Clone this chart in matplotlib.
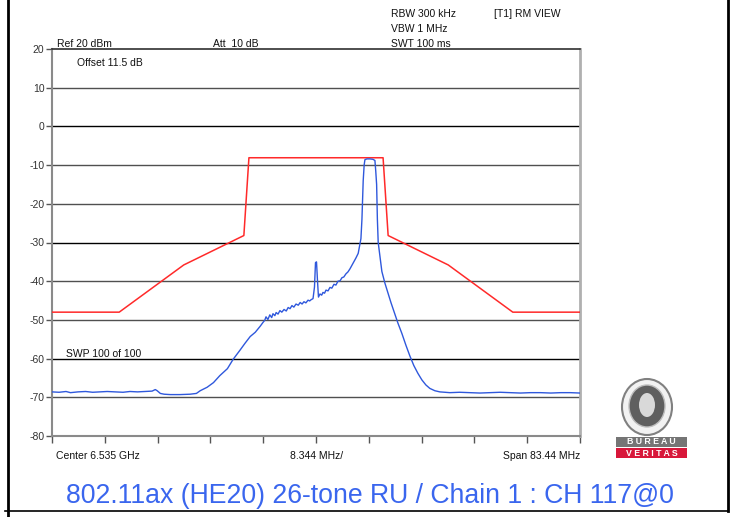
import matplotlib
matplotlib.use("Agg")
import matplotlib.pyplot as plt
from matplotlib.patches import Rectangle, Ellipse
from matplotlib.lines import Line2D

plt.rcParams['font.family'] = ['Liberation Sans', 'DejaVu Sans']

# ---------------- data ----------------
center_mhz = 6535.0
span_mhz = 83.44
y_ticks = [20, 10, 0, -10, -20, -30, -40, -50, -60, -70, -80]

# spectral mask (offset from centre, MHz ; level dBm)
mask_f = [-41.72, -31.1, -20.9, -11.4, -10.6, 10.6, 11.4, 20.9, 31.1, 41.72]
mask_db = [-48.0, -48.0, -35.8, -28.2, -8.1, -8.1, -28.2, -35.8, -48.0, -48.0]

# measured trace (offset from centre, MHz ; level dBm)
trace_f = [-41.72, -40.6, -39.5, -38.8, -37.6, -36.4, -35.3, -34.1, -33.0, -31.7,
           -30.5, -29.4, -28.2, -27.0, -25.9, -25.4, -25.1, -24.6, -24.0, -23.0,
           -21.5, -19.9, -18.9, -18.3, -17.2, -16.2, -15.2, -14.0, -13.1, -12.0,
           -11.2, -10.4, -9.6, -8.8, -8.4, -8.1, -7.9, -7.6, -7.3, -7.0,
           -6.8, -6.5, -6.3, -6.0, -5.7, -5.4, -5.05, -4.7, -4.4, -4.1,
           -3.8, -3.5, -3.16, -2.8, -2.5, -2.2, -1.9, -1.6, -1.26, -1.0,
           -0.79, -0.47, -0.24, -0.08, 0.08, 0.24, 0.39, 0.63, 0.9, 1.1,
           1.35, 1.58, 1.9, 2.21, 2.5, 2.84, 3.15, 3.47, 3.8, 4.1,
           4.4, 4.73, 5.05, 5.37, 5.84, 6.31, 6.67, 6.94, 7.10, 7.26,
           7.37, 7.46, 7.61, 7.73, 8.05, 8.52, 8.99, 9.31, 9.44, 9.58,
           9.70, 9.83, 10.10, 10.41, 10.89, 11.36, 11.84, 12.31, 12.94, 13.57,
           14.20, 14.83, 15.46, 16.10, 16.73, 17.36, 17.99, 18.78, 19.57, 21.15,
           22.7, 24.3, 25.9, 27.5, 29.1, 30.7, 32.3, 33.9, 35.5, 37.1,
           38.7, 40.2, 41.72]
trace_db = [-68.6, -68.7, -68.5, -68.8, -68.6, -68.5, -68.7, -68.6, -68.5, -68.6,
            -68.7, -68.5, -68.6, -68.5, -68.4, -68.0, -68.3, -69.0, -69.2, -69.3,
            -69.3, -69.2, -69.0, -68.3, -67.4, -66.2, -64.4, -62.6, -60.2, -57.8,
            -56.0, -54.3, -53.2, -51.6, -50.7, -50.1, -49.2, -49.9, -48.7, -49.4,
            -48.4, -48.9, -48.1, -48.5, -47.6, -48.0, -47.3, -47.7, -46.8, -47.1,
            -46.3, -46.7, -45.9, -46.2, -45.5, -45.9, -45.3, -45.6, -44.9, -45.1,
            -44.8, -44.5, -41.5, -35.2, -35.0, -40.0, -44.1, -43.3, -43.6, -42.9,
            -43.1, -42.3, -42.5, -41.6, -41.8, -40.8, -41.0, -40.0, -39.9, -39.1,
            -38.9, -38.1, -37.6, -36.8, -35.4, -34.0, -32.8, -30.5, -29.0, -24.0,
            -18.0, -14.0, -10.0, -8.6, -8.4, -8.4, -8.5, -8.8, -11.5, -15.0,
            -24.0, -30.0, -33.5, -37.5, -40.5, -43.0, -45.5, -47.8, -50.8, -53.5,
            -56.5, -59.3, -61.8, -63.8, -65.5, -66.8, -67.7, -68.3, -68.6, -68.8,
            -68.7, -68.8, -68.9, -68.8, -68.7, -68.8, -68.9, -68.8, -68.8, -68.9,
            -68.8, -68.8, -68.9]

title = "802.11ax (HE20) 26-tone RU / Chain 1 : CH 117@0"

# ---------------- figure ----------------
W, H = 731, 517
fig = plt.figure(figsize=(W / 100, H / 100), dpi=100)

def fx(px):
    return px / W

def fy(py):
    return 1 - py / H

ax = fig.add_axes([fx(52), fy(436), fx(580) - fx(52), fy(49) - fy(436)])
f_lo = center_mhz - span_mhz / 2
f_hi = center_mhz + span_mhz / 2
ax.set_xlim(f_lo, f_hi)
ax.set_ylim(-80, 20)

# horizontal grid
for v in y_ticks[1:-1]:
    col = '#000000' if v in (0, -30, -60) else '#505050'
    ax.axhline(v, color=col, lw=1.0, zorder=1)

ax.plot([center_mhz + f for f in mask_f], mask_db, color='#ff2a2a', lw=1.1, zorder=3)
ax.plot([center_mhz + f for f in trace_f], trace_db, color='#2f58dc', lw=1.0, zorder=4)

ax.set_yticks(y_ticks)
ax.set_yticklabels([str(v) for v in y_ticks])
ax.set_xticks([f_lo + i * span_mhz / 10 for i in range(11)])
ax.set_xticklabels([])
ax.tick_params(axis='y', length=4, width=1, color='#555555', labelsize=7.5,
               labelcolor='#333333', pad=1.5)
ax.tick_params(axis='x', length=5, width=1, color='#555555', direction='out')
for s in ax.spines.values():
    s.set_color('#8a8a8a')
    s.set_linewidth(1.5)
ax.spines['top'].set_color('#303030')
ax.spines['top'].set_linewidth(1.2)
ax.spines['right'].set_color('#b0b0b0')
ax.spines['right'].set_linewidth(2.0)

# header texts
fs = 7.5
fig.text(fx(57), fy(47), "Ref 20 dBm", fontsize=fs, va='baseline', color='#111111')
fig.text(fx(213), fy(47), "Att  10 dB", fontsize=fs, va='baseline', color='#111111')
fig.text(fx(391), fy(17), "RBW 300 kHz", fontsize=fs, va='baseline', color='#111111')
fig.text(fx(391), fy(32), "VBW 1 MHz", fontsize=fs, va='baseline', color='#111111')
fig.text(fx(391), fy(47), "SWT 100 ms", fontsize=fs, va='baseline', color='#111111')
fig.text(fx(494), fy(17), "[T1] RM VIEW", fontsize=fs, va='baseline', color='#111111')
fig.text(fx(77), fy(66), "Offset 11.5 dB", fontsize=fs, va='baseline', color='#111111')
fig.text(fx(66), fy(357), "SWP 100 of 100", fontsize=fs, va='baseline', color='#111111')

fig.text(fx(56), fy(459), "Center 6.535 GHz", fontsize=fs, va='baseline', color='#111111')
fig.text(fx(317), fy(459), "8.344 MHz/", fontsize=fs, va='baseline', ha='center', color='#111111')
fig.text(fx(580), fy(459), "Span 83.44 MHz", fontsize=fs, va='baseline', ha='right', color='#111111')

fig.text(fx(370), fy(503), title, fontsize=19.2, color='#3a66ee', ha='center', va='baseline')

# page border lines
fig.add_artist(Line2D([fx(8), fx(8)], [fy(0), fy(517)], color='black', lw=2))
fig.add_artist(Line2D([fx(728), fx(728)], [fy(0), fy(511)], color='black', lw=2))
fig.add_artist(Line2D([fx(5), fx(728)], [fy(511), fy(511)], color='black', lw=1.2))

# logo
fig.add_artist(Ellipse((fx(647), fy(407)), 50 / W, 56 / H, facecolor='#f2f2f2',
                       edgecolor='#808080', lw=1.5))
fig.add_artist(Ellipse((fx(647), fy(406)), 36 / W, 42 / H, facecolor='#5f5f5f',
                       edgecolor='#bdbdbd', lw=1.0))
fig.add_artist(Ellipse((fx(647), fy(405)), 16 / W, 24 / H, facecolor='#d9d9d9',
                       edgecolor='none'))
fig.add_artist(Rectangle((fx(616), fy(447)), 71 / W, 10 / H, facecolor='#757575',
                         edgecolor='none'))
fig.add_artist(Rectangle((fx(616), fy(458)), 71 / W, 10 / H, facecolor='#d8173a',
                         edgecolor='none'))
fig.text(fx(651.5), fy(442), "B U R E A U", fontsize=6.3, color='white', ha='center',
         va='center', weight='bold')
fig.text(fx(651.5), fy(453), "V E R I T A S", fontsize=6.3, color='white', ha='center',
         va='center', weight='bold')

fig.savefig("out.png", dpi=100, facecolor='white')
